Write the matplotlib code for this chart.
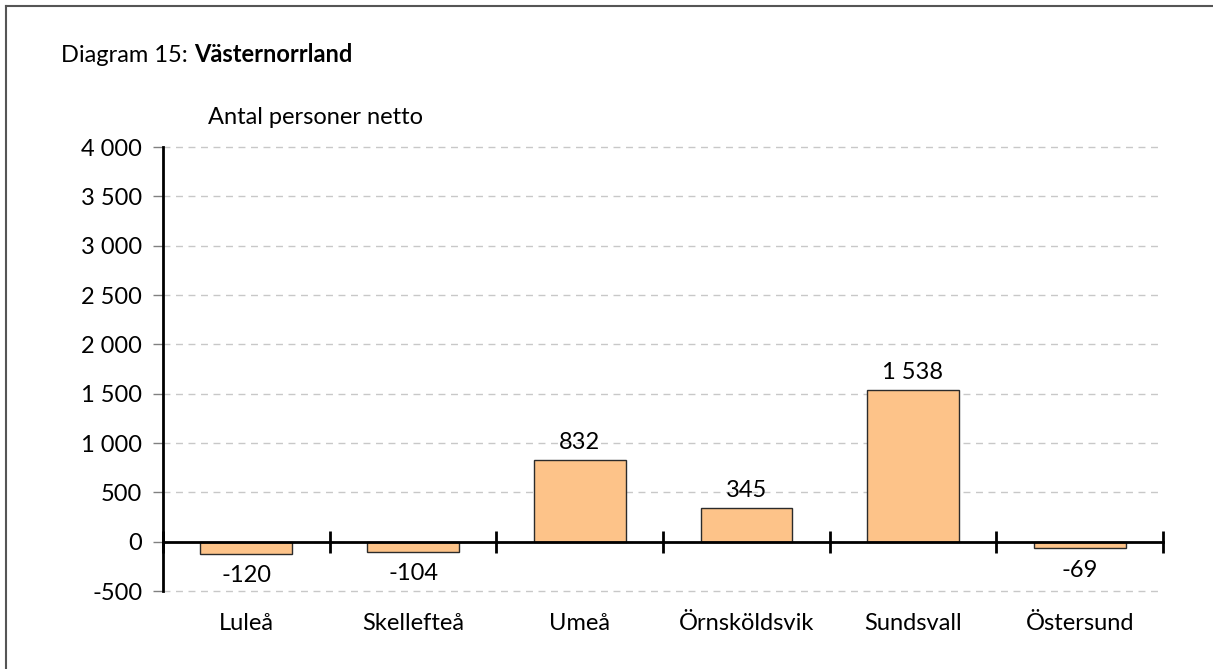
import matplotlib.pyplot as plt
import numpy as np
from matplotlib.lines import Line2D
from matplotlib.transforms import offset_copy

plt.rcParams['font.family'] = ['Lato', 'DejaVu Sans']
FS = 17

# data
kommuner = ['Luleå', 'Skellefteå', 'Umeå', 'Örnsköldsvik', 'Sundsvall', 'Östersund']
netto = [-120, -104, 832, 345, 1538, -69]
yticks = [-500, 0, 500, 1000, 1500, 2000, 2500, 3000, 3500, 4000]


def fmt(v):
    return f'{v:,}'.replace(',', ' ')


fig = plt.figure(figsize=(12.13, 6.69), dpi=100)
ax = fig.add_axes([163 / 1213, 1 - 591 / 669, 1000 / 1213, 444 / 669])

x = np.arange(len(kommuner))
ax.bar(x, netto, width=0.55, color='#FDC389', edgecolor='#2b2b2b', linewidth=1, zorder=3)

ymin, ymax = -500, 4000
ax.set_ylim(ymin, ymax)
ax.set_xlim(-0.5, len(kommuner) - 0.5)
ax.set_yticks(yticks)
ax.set_yticklabels([fmt(v) for v in yticks], fontsize=FS)
ax.yaxis.grid(True, linestyle=(0, (5, 4)), color='#c8c8c8', linewidth=1)
ax.set_axisbelow(True)
ax.tick_params(axis='y', length=7, width=1, color='#808080', pad=8)
for gl in ax.get_ygridlines():
    gl.set_clip_on(False)

ax.set_xticks(x)
ax.set_xticklabels(kommuner, fontsize=FS)
ax.tick_params(axis='x', length=0, pad=16)

for s in ['top', 'right', 'bottom']:
    ax.spines[s].set_visible(False)
ax.spines['left'].set_linewidth(2)
ax.spines['left'].set_color('black')

# x-axis line at zero with category boundary ticks
sec = ax.secondary_xaxis((0 - ymin) / (ymax - ymin))
sec.set_zorder(5)
sec.set_xticks(np.arange(len(kommuner) + 1) - 0.5)
sec.set_xticklabels([])
sec.tick_params(direction='inout', length=16, width=2, color='black')
sec.spines['bottom'].set_linewidth(2)
sec.spines['bottom'].set_color('black')

for xi, v in zip(x, netto):
    if v >= 0:
        ax.annotate(fmt(v), (xi, v), xytext=(0, 5), textcoords='offset points',
                    ha='center', va='bottom', fontsize=FS)
    else:
        ax.annotate(fmt(v), (xi, v), xytext=(0, -8), textcoords='offset points',
                    ha='center', va='top', fontsize=FS)

# title: normal + bold part
t1 = fig.text(61 / 1213, 1 - 55 / 669, 'Diagram 15: ', fontsize=FS, va='center', ha='left')
fig.canvas.draw()
w = t1.get_window_extent().width
fig.text(61 / 1213, 1 - 55 / 669, 'Västernorrland', fontsize=FS, fontweight='bold',
         va='center', ha='left',
         transform=offset_copy(fig.transFigure, fig=fig, x=w, y=0, units='dots'))
fig.text(208 / 1213, 1 - 117 / 669, 'Antal personer netto', fontsize=FS, va='center', ha='left')

# frame (top and left edge)
fig.add_artist(Line2D([6 / 1213, 1], [1 - 5.5 / 669, 1 - 5.5 / 669], color='#555555', lw=1.5))
fig.add_artist(Line2D([6 / 1213, 6 / 1213], [0, 1 - 5.5 / 669], color='#555555', lw=1.5))

fig.savefig('out.png', dpi=100)
